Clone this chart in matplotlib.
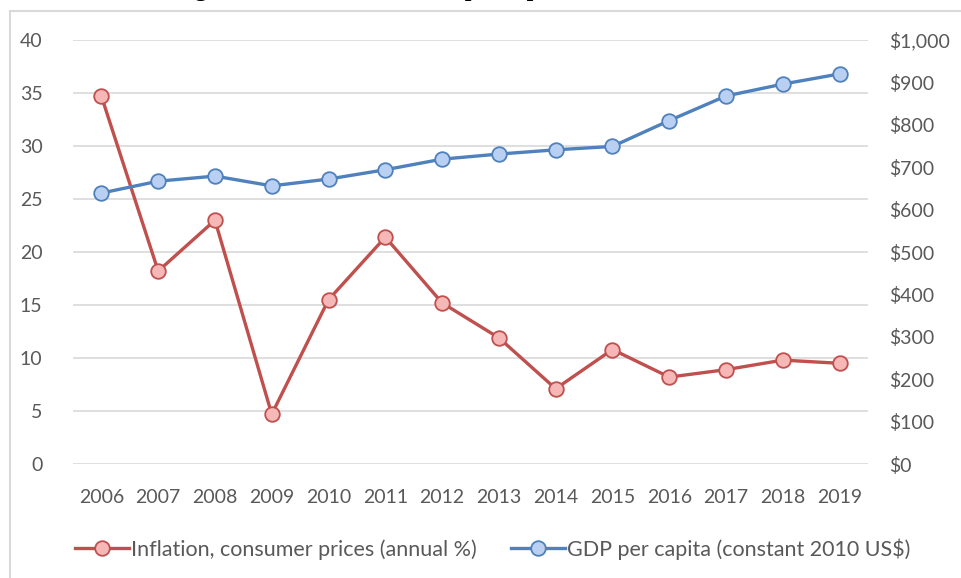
import matplotlib.pyplot as plt
from matplotlib.patches import Rectangle
from matplotlib.ticker import FuncFormatter

years = ['2006', '2007', '2008', '2009', '2010', '2011', '2012',
         '2013', '2014', '2015', '2016', '2017', '2018', '2019']
inflation = [34.7, 18.2, 23.0, 4.7, 15.5, 21.4, 15.2, 11.9, 7.1, 10.8, 8.2, 8.9, 9.8, 9.5]
gdp_per_capita = [639, 667, 679, 656, 672, 694, 719, 731, 741, 749, 810, 868, 896, 920]

plt.rcParams['font.family'] = ['Lato', 'DejaVu Sans']
grey = '#595959'

fig = plt.figure(figsize=(9.62, 5.78), dpi=100)

# chart border
fig.patches.append(Rectangle((10 / 962, -0.01), 1.0, 1 - 11 / 578 + 0.01,
                             transform=fig.transFigure, fill=False,
                             edgecolor='#D9D9D9', linewidth=1.5))

# title, mostly cut off at the top of the image
fig.text(0.385, 1 + 4 / 578, 'Figure 2: Inflation and GDP per capita',
         ha='center', va='baseline', fontsize=17, fontweight='bold',
         family='Liberation Serif')

ax = fig.add_axes([73 / 962, 1 - 464 / 578, (868 - 73) / 962, (464 - 40) / 578])
ax2 = ax.twinx()

x = list(range(len(years)))
l1, = ax.plot(x, inflation, color='#C0504D', linewidth=2.4, marker='o',
              markersize=10.5, markerfacecolor='#F5B8B7', markeredgecolor='#C0504D',
              markeredgewidth=1.3, label='Inflation, consumer prices (annual %)', zorder=3)
l2, = ax2.plot(x, gdp_per_capita, color='#4F81BD', linewidth=2.4, marker='o',
               markersize=10.5, markerfacecolor='#B9D0F2', markeredgecolor='#4F81BD',
               markeredgewidth=1.3, label='GDP per capita (constant 2010 US$)', zorder=3)

ax.set_xlim(-0.5, len(years) - 0.5)
ax.set_ylim(0, 40)
ax.set_yticks(range(0, 41, 5))
ax2.set_ylim(0, 1000)
ax2.set_yticks(range(0, 1001, 100))
ax2.yaxis.set_major_formatter(FuncFormatter(lambda v, p: '${:,.0f}'.format(v)))

ax.set_xticks(x)
ax.set_xticklabels(years)
ax.grid(axis='y', color='#D9D9D9', linewidth=1.2)
ax.set_axisbelow(True)

for a in (ax, ax2):
    for s in a.spines.values():
        s.set_visible(False)
    a.tick_params(length=0, labelsize=14, labelcolor=grey)
ax.tick_params(axis='y', pad=22)
ax.tick_params(axis='x', pad=18)
ax2.tick_params(axis='y', pad=15)

fig.legend(handles=[l1, l2], loc='center', bbox_to_anchor=(0.512, 1 - 549 / 578),
           ncol=2, frameon=False, fontsize=15.5, labelcolor=grey,
           handlelength=2.5, handletextpad=0.1, columnspacing=1.6)

fig.savefig('out.png', dpi=100)
